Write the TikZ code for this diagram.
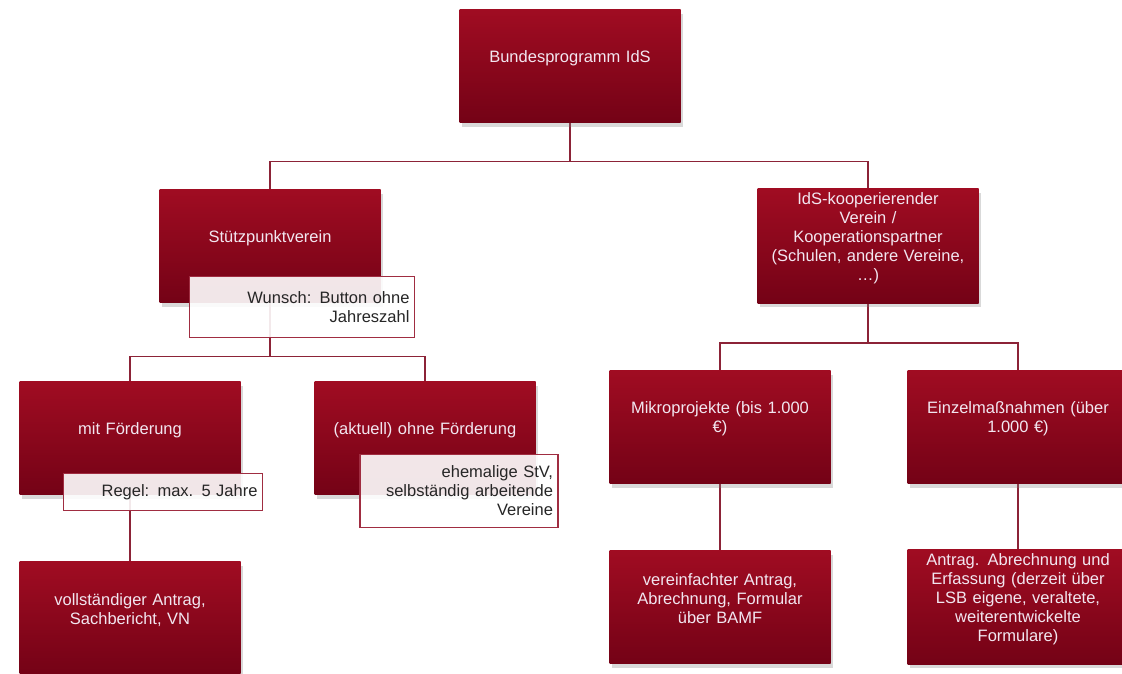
\documentclass[tikz,border=0pt]{standalone}
\usepackage{fontspec}
\setmainfont{Liberation Sans}
\usetikzlibrary{shadows,backgrounds}
\definecolor{boxtop}{RGB}{160,12,34}
\definecolor{boxbot}{RGB}{116,2,22}
\definecolor{conncol}{RGB}{140,35,55}
\definecolor{notecol}{RGB}{160,45,65}
\definecolor{boxtext}{RGB}{242,230,240}
\begin{document}
\begin{tikzpicture}[
		x=1pt, y=-1pt,
		box/.style={rectangle, top color=boxtop, bottom color=boxbot,
				minimum width=221pt, minimum height=113pt, text width=205pt,
				align=center, text=boxtext, font=\fontsize{16.5}{19}\selectfont,
				execute at end node={\endgraf\vspace*{16pt}},
				drop shadow={shadow xshift=2pt, shadow yshift=-4pt, opacity=0.3}},
		note/.style={rectangle, draw=notecol, line width=1.2pt, fill=white,
				fill opacity=0.9, text opacity=1, align=right, inner xsep=5pt,
				font=\fontsize{16.5}{19}\selectfont, text=black!85},
		conn/.style={draw=conncol, line width=1.5pt}
	]
	\useasboundingbox (0,0) rectangle (1122,673);
	\node[box] (top) at (570,66) {Bundesprogramm IdS};
	\node[box] (stz) at (270,246) {Stützpunktverein};
	\node[box] (ids) at (868,246) {IdS-kooperierender\\Verein /\\Kooperationspartner\\(Schulen, andere Vereine,\\\dots)};
	\node[box] (mit) at (130,438) {mit Förderung};
	\node[box] (ohne) at (425,438) {(aktuell) ohne Förderung};
	\node[box] (voll) at (130,618) {vollständiger Antrag,\\Sachbericht, VN};
	\node[box] (mikro) at (720,427) {Mikroprojekte (bis 1.000\\€)};
	\node[box] (einzel) at (1018,427) {Einzelmaßnahmen (über\\1.000 €)};
	\node[box] (vereinf) at (720,607) {vereinfachter Antrag,\\Abrechnung, Formular\\über BAMF};
	\node[box] (antrag) at (1018,607) {Antrag. Abrechnung und\\Erfassung (derzeit über\\LSB eigene, veraltete,\\weiterentwickelte\\Formulare)};
	% Anmerkungen
	\node[note, text width=215pt, minimum height=61pt] (wunsch) at (302,307) {Wunsch: Button ohne\\Jahreszahl};
	\node[note, text width=189pt, minimum height=37pt] (regel) at (163,492) {Regel: max. 5 Jahre};
	\node[note, text width=188pt, minimum height=73pt] (ehem) at (459,491) {ehemalige StV,\\selbständig arbeitende\\Vereine};
	\begin{scope}[on background layer]
		\draw[conn] (top.south) -- +(0,39) -| (stz.north);
		\draw[conn] (top.south) -- +(0,39) -| (ids.north);
		\draw[conn] (stz.south) -- +(0,54) -| (mit.north);
		\draw[conn] (stz.south) -- +(0,54) -| (ohne.north);
		\draw[conn] (ids.south) -- +(0,40) -| (mikro.north);
		\draw[conn] (ids.south) -- +(0,40) -| (einzel.north);
		\draw[conn] (mit.south) -- (voll.north);
		\draw[conn] (mikro.south) -- (vereinf.north);
		\draw[conn] (einzel.south) -- (antrag.north);
	\end{scope}
\end{tikzpicture}
\end{document}
